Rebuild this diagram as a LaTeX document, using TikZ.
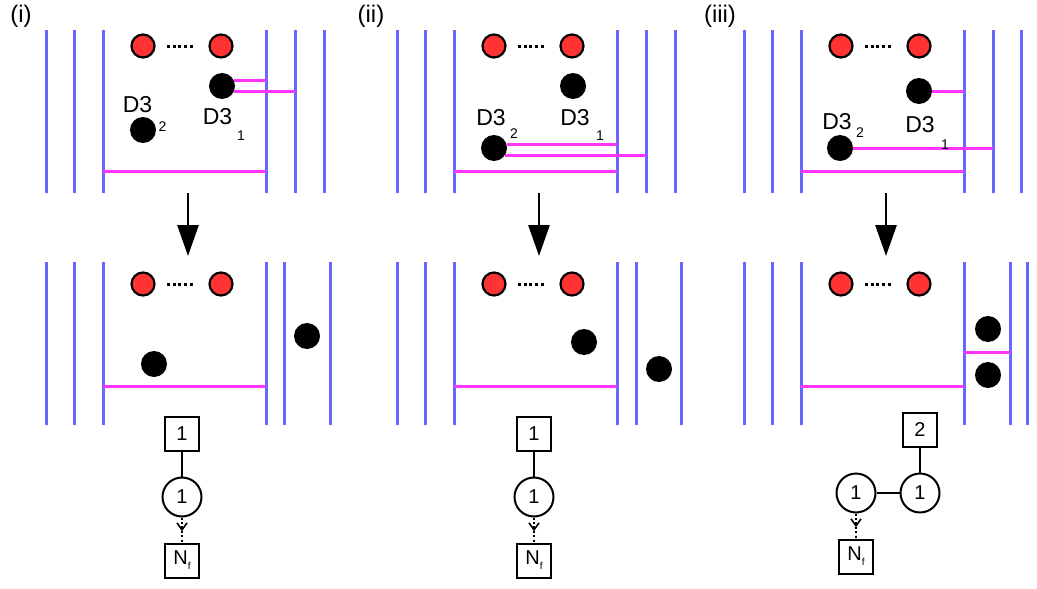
\documentclass[tikz,border=0pt]{standalone}
\usepackage{fontspec}
\setmainfont{Liberation Sans}
\usetikzlibrary{arrows.meta,decorations.markings,positioning}

\definecolor{wallblue}{RGB}{104,104,255}
\definecolor{stringmag}{RGB}{255,51,255}
\definecolor{ored}{RGB}{255,51,51}

\begin{document}
\begin{tikzpicture}[x=1pt,y=-1pt,node distance=25pt]
  \tikzstyle{wall}=[draw=wallblue,line width=3pt]
  \tikzstyle{string}=[draw=stringmag,line width=3pt]
  \tikzstyle{orient}=[circle,draw=black,line width=2.2pt,fill=ored,minimum size=23pt,inner sep=0pt]
  \tikzstyle{brane}=[circle,fill=black,minimum size=26pt,inner sep=0pt]
  \tikzstyle{ellip}=[line width=3pt,dash pattern=on 3pt off 2.6pt,shorten <=11.5pt,shorten >=14pt]
  \tikzstyle{tag}=[inner sep=0pt,font=\fontsize{24}{24}\selectfont]
  \tikzstyle{dlab}=[inner sep=0pt,font=\fontsize{23}{23}\selectfont]
  \tikzstyle{dsub}=[inner sep=0pt,font=\fontsize{14}{14}\selectfont]
  \tikzstyle{move}=[-{Triangle[length=31pt,width=21pt]},line width=2.8pt]
  \tikzstyle{gauge}=[circle,draw,line width=2pt,minimum size=39pt,inner sep=0pt,font=\fontsize{20}{20}\selectfont]
  \tikzstyle{flav}=[rectangle,draw,line width=2pt,minimum size=34pt,inner sep=0pt,font=\fontsize{20}{20}\selectfont]
  \tikzstyle{link}=[line width=2pt]
  \tikzstyle{fund}=[line width=2pt,dash pattern=on 2.2pt off 2.2pt,
    decoration={markings,mark=at position 0.55 with {\arrow[solid,line width=1.6pt]{Straight Barb[length=7pt,width=10pt]}}},
    postaction=decorate]
  \newcommand{\nflav}{N\raisebox{-5pt}{\fontsize{10}{10}\selectfont f}}

  \useasboundingbox (0,0) rectangle (1037,589);

  % common part of the three panels
  \foreach \s/\p in {0/a,351/b,698/c} {
    \begin{scope}[xshift=\s]
      \foreach \x in {46,74,103,266} {
        \draw[wall] (\x,30) -- (\x,193);
        \draw[wall] (\x,262) -- (\x,425);
      }
      \foreach \y/\k in {46/t,284/u} {
        \node[orient] (\p-\k1) at (143,\y) {};
        \node[orient] (\p-\k2) at (221,\y) {};
        \draw[ellip] (\p-\k1) -- (\p-\k2);
      }
      \draw[string] (103,171) -- (266,171);
      \draw[string] (103,386) -- (266,386);
      \draw[move] (188,193) -- (188,256);
    \end{scope}
  }

  % (i)
  \node[tag] (a-tag) at (21,16) {(i)};
  \foreach \x in {295,324} \draw[wall] (\x,30) -- (\x,193);
  \foreach \x in {284,330} \draw[wall] (\x,262) -- (\x,425);
  \node[brane] (a-d1) at (222,86) {};
  \node[brane] (a-d2) at (143,130) {};
  \draw[string] (a-d1.25) -- (a-d1.25 -| 266,0);
  \draw[string] (a-d1.-25) -- (a-d1.-25 -| 295,0);
  \node[dlab] (a-l2) at (137.5,104.5) {D3};
  \node[dsub] (a-s2) at (162.5,126.5) {2};
  \node[dlab] (a-l1) at (217.5,117) {D3};
  \node[dsub] (a-s1) at (241,136) {1};
  \node[brane] (a-e2) at (154,364) {};
  \node[brane] (a-e1) at (307,336) {};
  \node[gauge] (a-g) at (182,497) {1};
  \node[flav, above=of a-g] (a-f) {1};
  \node[flav, below=of a-g] (a-n) {\nflav};
  \draw[link] (a-f) -- (a-g);
  \draw[fund] (a-g) -- (a-n);

  % (ii)
  \node[tag] (b-tag) at (371,16) {(ii)};
  \foreach \x in {646,675} \draw[wall] (\x,30) -- (\x,193);
  \foreach \x in {636,681} \draw[wall] (\x,262) -- (\x,425);
  \node[brane] (b-d1) at (573,86) {};
  \node[brane] (b-d2) at (494,148) {};
  \draw[string] (b-d2.16) -- (b-d2.16 -| 617,0);
  \draw[string] (b-d2.-37) -- (b-d2.-37 -| 646,0);
  \node[dlab] (b-l2) at (491,118) {D3};
  \node[dsub] (b-s2) at (514,134) {2};
  \node[dlab] (b-l1) at (575,118) {D3};
  \node[dsub] (b-s1) at (600,136) {1};
  \node[brane] (b-e2) at (584,342) {};
  \node[brane] (b-e1) at (659,369) {};
  \node[gauge] (b-g) at (534,497) {1};
  \node[flav, above=of b-g] (b-f) {1};
  \node[flav, below=of b-g] (b-n) {\nflav};
  \draw[link] (b-f) -- (b-g);
  \draw[fund] (b-g) -- (b-n);

  % (iii)
  \node[tag] (c-tag) at (720,16) {(iii)};
  \foreach \x in {993,1021} \draw[wall] (\x,30) -- (\x,193);
  \foreach \x in {1010,1027} \draw[wall] (\x,262) -- (\x,425);
  \node[brane] (c-d1) at (919,91) {};
  \node[brane] (c-d2) at (840,148) {};
  \draw[string] (c-d1) -- (c-d1 -| 964,0);
  \draw[string] (c-d2) -- (c-d2 -| 993,0);
  \node[dlab] (c-l2) at (837,122) {D3};
  \node[dsub] (c-s2) at (860,133) {2};
  \node[dlab] (c-l1) at (920,125) {D3};
  \node[dsub] (c-s1) at (945,145) {1};
  \node[brane] (c-e2) at (988,329) {};
  \node[brane] (c-e1) at (988,375) {};
  \draw[string] (964,352) -- (1010,352);
  \node[gauge] (c-g1) at (856,493) {1};
  \node[gauge, right=23pt of c-g1] (c-g2) {1};
  \node[flav, above=of c-g2] (c-f) {2};
  \node[flav, below=of c-g1] (c-n) {\nflav};
  \draw[link] (c-g1) -- (c-g2);
  \draw[link] (c-f) -- (c-g2);
  \draw[fund] (c-g1) -- (c-n);

\end{tikzpicture}
\end{document}
